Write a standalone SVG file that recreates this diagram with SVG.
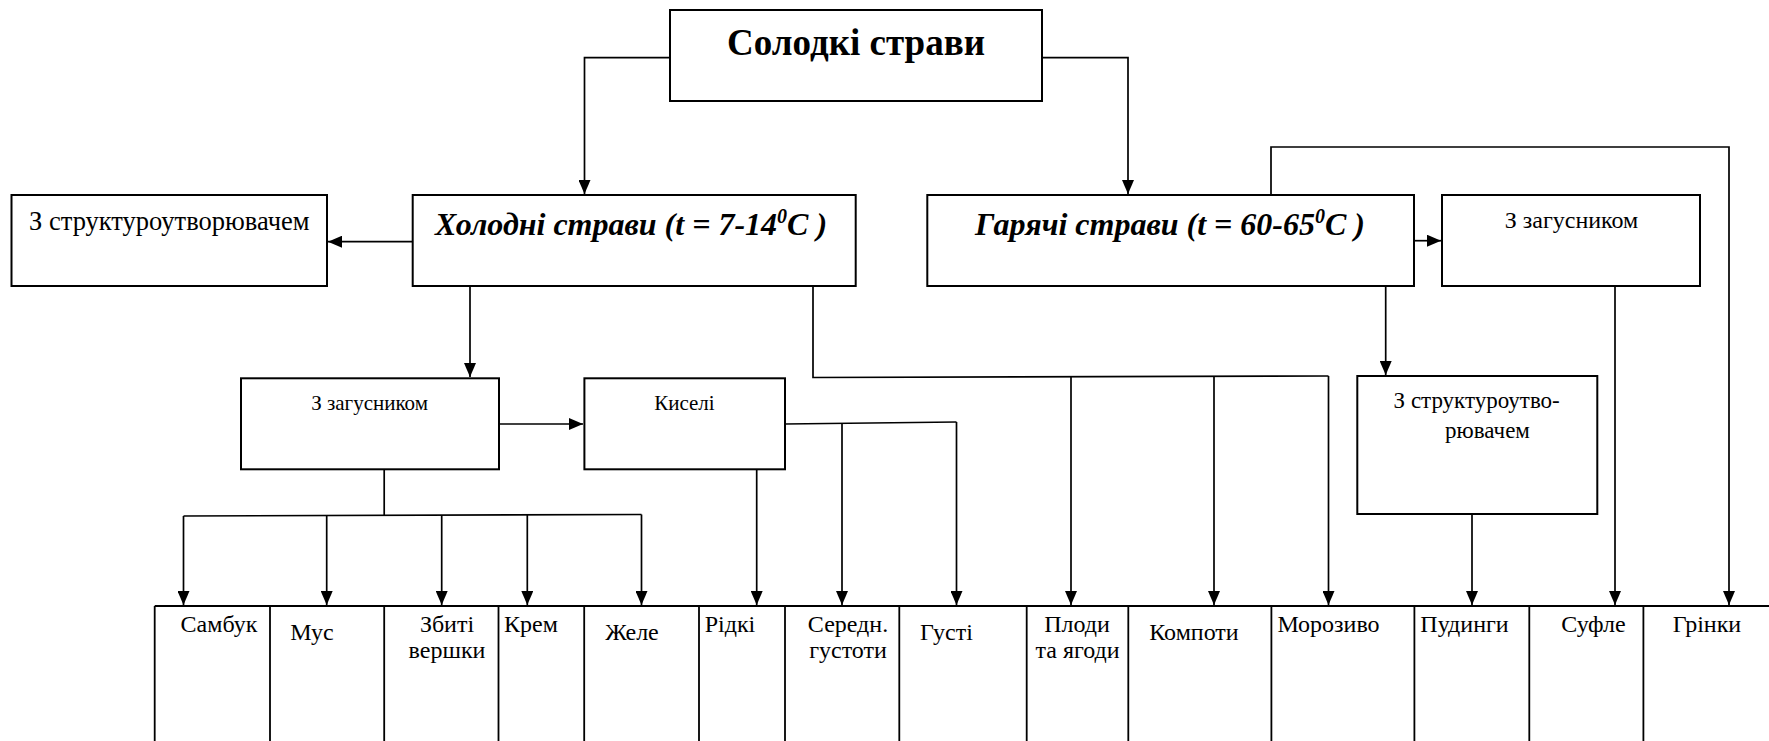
<svg xmlns="http://www.w3.org/2000/svg" width="1769" height="741" viewBox="0 0 1769 741">
<defs>
<style>
.box{fill:#fff;stroke:#000;stroke-width:2}
.c{fill:none;stroke:#000;stroke-width:1.7}
.a{marker-end:url(#ah)}
.row{fill:none;stroke:#000;stroke-width:1.8}
.t{font-family:'Liberation Serif',serif;fill:#000;text-anchor:middle}
.title{font-size:37px;font-weight:bold}
.cat{font-size:32px;font-weight:bold;font-style:italic}
.l1{font-size:24px}
.l2{font-size:21px}
.leaf{font-size:24px}
</style>
<marker id="ah" markerUnits="userSpaceOnUse" markerWidth="14" markerHeight="12" refX="14" refY="6" orient="auto">
<path d="M0,0 L14,6 L0,12 z" fill="#000"/>
</marker>
</defs>
<rect width="1769" height="741" fill="#fff"/>

<g id="connectors" class="c">
<path class="a" d="M670,57.7 H584.5 V194"/>
<path class="a" d="M1042,57.7 H1128 V194"/>
<path class="a" d="M412.7,241.7 H328"/>
<path class="a" d="M470,286 V377"/>
<path d="M813,286 V377.5 L1328.5,376"/>
<path class="a" d="M1071,377 V605"/>
<path class="a" d="M1214,376.6 V605"/>
<path class="a" d="M1328.5,376 V605"/>
<path class="a" d="M499,424 H583"/>
<path d="M384.2,469.5 V515.5 M183.5,516 L641.5,514.5"/>
<path class="a" d="M183.5,516 V605"/>
<path class="a" d="M326.7,515.6 V605"/>
<path class="a" d="M441.7,515.2 V605"/>
<path class="a" d="M527.3,515 V605"/>
<path class="a" d="M641.5,514.5 V605"/>
<path class="a" d="M756.7,468 V605"/>
<path d="M785,424 L956.5,422"/>
<path class="a" d="M842,423.3 V605"/>
<path class="a" d="M956.5,422 V605"/>
<path class="a" d="M1414,240.7 H1441"/>
<path class="a" d="M1271,195 V147 H1729 V605"/>
<path class="a" d="M1385.7,286 V375"/>
<path class="a" d="M1615,287 V605"/>
<path class="a" d="M1472,514 V605"/>
</g>

<g id="node-solodki">
<rect class="box" x="670" y="10" width="372" height="91"/>
<text class="t title" x="856" y="55">Солодкі страви</text>
</g>

<g id="node-kholodni">
<rect class="box" x="412.7" y="195" width="443" height="91"/>
<text class="t cat" x="631" y="235">Холодні страви (t = 7-14<tspan font-size="20" dy="-12">0</tspan><tspan dy="12">C )</tspan></text>
</g>

<g id="node-hariachi">
<rect class="box" x="927.3" y="195" width="486.7" height="91"/>
<text class="t cat" x="1170" y="235">Гарячі страви (t = 60-65<tspan font-size="20" dy="-12">0</tspan><tspan dy="12">C )</tspan></text>
</g>

<g id="node-struktur-left">
<rect class="box" x="11.5" y="195" width="315.5" height="91"/>
<text class="t" x="169.3" y="230" style="font-size:26.5px">З структуроутворювачем</text>
</g>

<g id="node-zahusnyk-right">
<rect class="box" x="1442" y="195" width="258" height="91"/>
<text class="t l1" x="1571.5" y="228.3">З загусником</text>
</g>

<g id="node-zahusnyk-left">
<rect class="box" x="241" y="378.3" width="258" height="91"/>
<text class="t l2" x="369.6" y="410">З загусником</text>
</g>

<g id="node-kyseli">
<rect class="box" x="584.4" y="378.3" width="200.6" height="91"/>
<text class="t l2" x="684.4" y="410">Киселі</text>
</g>

<g id="node-struktur-right">
<rect class="box" x="1357.3" y="376" width="240" height="138"/>
<text class="t" x="1476.7" y="408.3" style="font-size:23px">З структуроутво-</text>
<text class="t" x="1487.5" y="438.3" style="font-size:23px">рювачем</text>
</g>

<g id="bottom-row">
<path class="row" d="M154.7,606 H1769 M154.7,606 V741 M270,606 V741 M384.2,606 V741 M498.5,606 V741 M584.2,606 V741 M699,606 V741 M785,606 V741 M899.3,606 V741 M1026.7,606 V741 M1128.3,606 V741 M1271.4,606 V741 M1414.4,606 V741 M1529.3,606 V741 M1643.4,606 V741"/>
</g>

<g id="leaf-sambuk"><text class="t leaf" x="219" y="631.7">Самбук</text></g>
<g id="leaf-mus"><text class="t leaf" x="312" y="640">Мус</text></g>
<g id="leaf-zbyti"><text class="t leaf" x="447" y="631.7">Збиті</text><text class="t leaf" x="447" y="658.3">вершки</text></g>
<g id="leaf-krem"><text class="t leaf" x="531" y="631.7">Крем</text></g>
<g id="leaf-zhele"><text class="t leaf" x="632" y="639.5">Желе</text></g>
<g id="leaf-ridki"><text class="t leaf" x="730" y="631.7">Рідкі</text></g>
<g id="leaf-seredn"><text class="t leaf" x="848" y="631.7">Середн.</text><text class="t leaf" x="848" y="658.3">густоти</text></g>
<g id="leaf-husti"><text class="t leaf" x="946.5" y="640">Густі</text></g>
<g id="leaf-plody"><text class="t leaf" x="1077" y="631.7">Плоди</text><text class="t leaf" x="1077.5" y="658.3">та ягоди</text></g>
<g id="leaf-kompoty"><text class="t leaf" x="1194" y="640">Компоти</text></g>
<g id="leaf-morozyvo"><text class="t leaf" x="1328.5" y="631.7">Морозиво</text></g>
<g id="leaf-pudynhy"><text class="t leaf" x="1464.5" y="631.7">Пудинги</text></g>
<g id="leaf-sufle"><text class="t leaf" x="1593.5" y="631.7">Суфле</text></g>
<g id="leaf-hrinky"><text class="t leaf" x="1707" y="631.7">Грінки</text></g>
</svg>
